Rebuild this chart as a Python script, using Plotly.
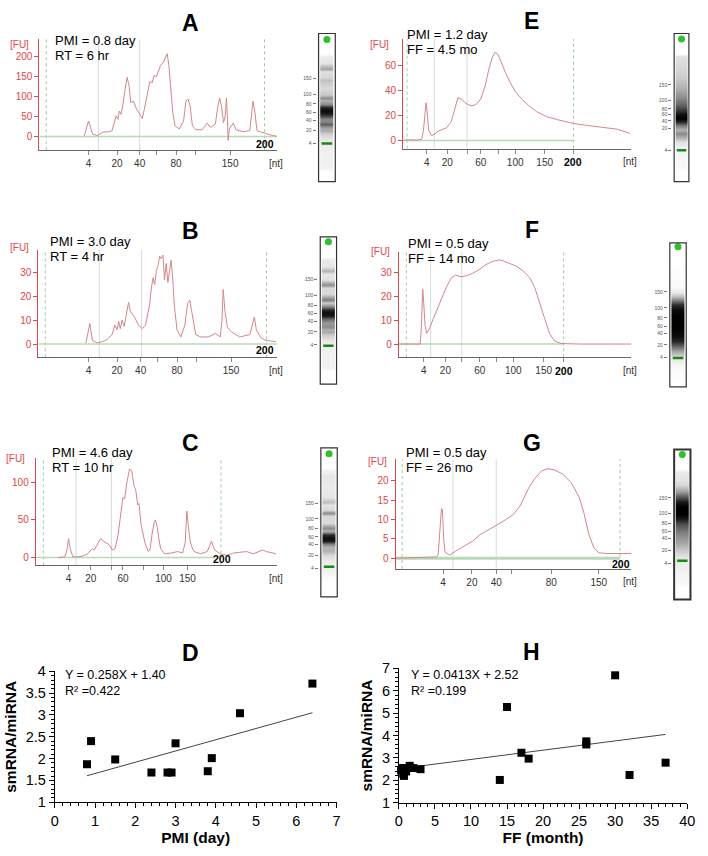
import plotly.graph_objects as go

W, H = 708, 856
RED = '#e0474c'
CURVE = '#d4868a'
GRAYV = '#d3dcdf'
DASHG = '#9fcc9f'
BASEG = '#b9dab9'
FONT = 'Liberation Sans'

def fx(p):
    return p / W

def fy(p):
    return 1 - p / H

# ---------------- Electropherogram data (migration time units, FU) ----------------
tA = [81.7, 86, 90, 95, 100, 106.7, 110, 112.7, 114, 116, 117.3, 119, 121, 123.3, 125.3, 127.3, 129, 131.7,
      135, 138.3, 140.7, 142.7, 145.7, 148.3, 150.7, 152.7, 155, 156.7, 159.3, 161.7, 164, 166, 167.7, 170,
      171.7, 174, 178.3, 182.7, 185, 187.3, 189.3, 191.7, 195, 201.7, 206.7, 210, 215, 217.3, 219.3, 221.3,
      223.3, 225, 226.3, 227.3, 228, 229.3, 231.7, 233.3, 236, 243.3, 250, 251.7, 253.3, 255.3, 257.3, 261.7,
      266.7, 273.3, 277.3]
fuA = [2, 39, 6.6, 2.5, 10.7, 12, 15, 39, 52, 43, 64, 56, 80, 121, 149, 126, 85, 89,
       68, 56, 45, 68, 109, 138, 135, 154, 150, 163, 179, 185, 200, 208, 179, 109,
       60, 27, 19, 39, 89, 94, 76, 27, 17, 17, 34, 23, 31, 72, 97, 76,
       35, 52, 97, 43, -10, 19, 27, 34, 17, 12, 15, 52, 89, 60, 15, 11,
       6.6, 2.5, 1]

tB = [83.3, 87.3, 90, 95, 100, 105, 110, 112.7, 115, 116.7, 118.3, 120, 122.3, 125, 126.7, 128.3, 130.7, 133.3,
      136.7, 140.7, 144, 148.3, 150, 151.7, 153.3, 155, 156.7, 158.3, 160, 161.7, 163.3, 165, 166.7, 168.3,
      170, 171.7, 173.3, 176, 180, 184, 186.7, 189, 191.7, 195, 200, 208.3, 215, 220, 221.7, 223, 224.7,
      227.3, 231.7, 240, 250, 252.7, 254.7, 256.7, 261.7, 266.7, 276.7]
fuB = [0.5, 8.6, 1.5, 0.5, 1, 2, 4, 8, 6, 9.5, 6.5, 10, 7.5, 13, 17.6, 14, 12.5, 11,
       8, 6.5, 8, 17, 24, 28, 25, 31, 33, 37, 36, 37.5, 27, 34, 26, 30,
       35.4, 27, 16, 6, 3, 8, 17, 18.5, 12, 4, 3, 3, 4.5, 3, 10, 23, 14,
       7, 5, 3, 4, 8, 11.4, 6, 2.5, 1.5, 1]

tC = [55, 62, 64, 65.7, 67.3, 70, 75, 80, 85, 88, 90, 91.7, 94, 96, 98.3, 101, 103.3, 107, 110, 113, 116,
      118.3, 121, 122.7, 125, 127.7, 130, 132.3, 134, 136, 137.3, 139.3, 141.5, 143.3, 146.7, 148.5, 150.5,
      152.7, 154, 156, 157.5, 159.3, 163.3, 170, 176.7, 181.7, 184.3, 186, 187.7, 189, 190.7, 193.3, 200,
      206.7, 209, 211, 212.7, 214.3, 220, 226.7, 233.3, 240, 246.7, 253.3, 258, 263.3, 267, 271.7, 276.7]
fuC = [0, 1, 10, 25, 12, 1, 1, 2, 5, 9, 12, 10, 15, 20, 25, 22, 20, 17, 10, 12, 30,
       50, 80, 78, 100, 118, 115, 95, 90, 70, 72, 45, 30, 20, 8, 10, 30,
       47, 50, 40, 25, 12, 5, 6, 8, 6, 20, 62, 40, 25, 15, 8, 5,
       8, 15, 22, 15, 10, 5, 3, 6, 7, 8, 5, 7, 10, 8, 7, 5]

tE = [406, 410, 420, 425, 426.7, 428.3, 429.3, 430.3, 432, 435, 438.3, 441.7, 450, 455, 458.3, 461.7, 465,
      470, 475, 480, 485, 489.3, 493.3, 496.7, 499.3, 502, 505, 510, 515, 520, 526.7, 533.3, 541.7, 551.7,
      563.3, 579.3, 593.3, 610, 623.3, 631.7, 636.7]
fuE = [0, 0.5, 0.3, 1, 8, 22, 30, 24, 8, 4, 5, 7.5, 10, 15, 24, 34, 33,
       29.5, 27.5, 28.5, 33, 43, 57, 66, 70, 69, 64, 54, 46, 39, 33, 28, 23, 19,
       16.5, 13.5, 12, 10.5, 9, 7, 5.5]

tF = [401.7, 423.3, 424.3, 425.3, 426, 427, 428.3, 430, 433.3, 436.7, 443.3, 450, 455, 459.3, 465, 471.7,
      476.7, 483.3, 490, 496.7, 503.3, 506.7, 513.3, 521.7, 528.3, 535, 540, 545, 550, 555, 560, 566.7,
      586.7, 620, 638.3]
fuF = [0, 0, 5, 18, 23, 17, 8, 4.5, 7, 10.7, 17.6, 24, 27.9, 29, 28.3, 28.9,
       29.8, 31.3, 33.4, 34.8, 35.4, 35.2, 34.1, 32.7, 30.7, 27.9, 23.7, 17.6, 10.7, 4.4, 1.3, 0.2,
       0, 0, 0]

tG = [398.3, 420, 440, 441.7, 443.3, 445, 446, 447.3, 448.7, 453.3, 460, 468.3, 476.7, 485, 493.3, 501.7,
      510, 518.3, 525, 533.3, 540, 546.7, 553.3, 560, 568.3, 576.7, 585, 590, 595, 600, 605, 613.3, 626.7,
      638.3]
fuG = [0, 0.2, 0.3, 1, 6, 12.8, 12.5, 5, 1.5, 0.8, 1.9, 3.1, 4.4, 6.2, 7.3, 8.6,
       9.9, 11.3, 13.5, 17.9, 20.6, 22.5, 23.1, 22.8, 21.7, 19.6, 15.8, 11.6, 6.1, 2.7, 1.4, 1.2, 1.2,
       1.2]

# size-ladder tick positions on each electropherogram (labelled / unlabelled)
ntA_pos, ntA_txt, ntA_minor = [86, 115, 138, 175, 230], ['4', '20', '40', '80', '150'], [155, 195]
ntB_pos, ntB_txt, ntB_minor = [86, 115, 139, 176, 231], ['4', '20', '40', '80', '150'], [156, 196]
ntC_pos, ntC_txt, ntC_minor = [65.7, 88.3, 121, 162.3, 186.7], ['4', '20', '60', '100', '150'], [109.3, 141.7]
ntE_pos, ntE_txt, ntE_minor = [430, 451, 485, 520, 550], ['4', '20', '60', '100', '150'], [471, 503.3, 579.3]
ntF_pos, ntF_txt, ntF_minor = [427, 449, 484, 518, 549], ['4', '20', '60', '100', '150'], [465.7, 501, 569.3]
ntG_pos, ntG_txt, ntG_minor = [446.7, 476, 500.7, 556.7, 605], ['4', '20', '40', '80', '150'], [516.7]

# ---------------- Gel lane data (position from lane top, intensity 0-1) ----------------
ladder_txt = ['150', '100', '80', '60', '40', '20', '4']

posA = [20, 24, 30, 34, 36, 38, 44, 48, 50, 56, 62, 66, 68, 72, 75, 78, 81, 84, 87, 90, 92, 94, 97, 99, 102,
        106, 110, 120, 130, 137, 140]
intA = [0, 0.08, 0.1, 0.3, 0.35, 0.12, 0.15, 0.25, 0.2, 0.15, 0.2, 0.45, 0.3, 0.45, 0.85, 0.95, 0.9, 0.7,
        0.45, 0.5, 0.65, 0.45, 0.3, 0.35, 0.2, 0.12, 0.08, 0.06, 0.06, 0.05, 0]
posB = [20, 23.7, 30, 34.3, 38, 44, 48.7, 52, 58, 64.3, 67, 71, 74, 77, 80, 83, 87, 92, 95, 97, 100, 105, 110,
        125, 133, 136]
intB = [0, 0.08, 0.1, 0.3, 0.1, 0.12, 0.45, 0.15, 0.15, 0.5, 0.2, 0.5, 0.85, 0.95, 0.9, 0.6, 0.4, 0.45, 0.3,
        0.35, 0.2, 0.1, 0.06, 0.05, 0.05, 0]
posC = [20, 23.4, 30, 40, 50, 55, 58, 63, 66, 69, 76, 81, 85, 89, 92, 95, 98, 101, 105, 109, 115, 125, 135]
intC = [0, 0.06, 0.1, 0.08, 0.1, 0.25, 0.1, 0.15, 0.45, 0.15, 0.15, 0.45, 0.3, 0.85, 0.95, 0.9, 0.5, 0.3, 0.3,
        0.15, 0.08, 0.05, 0]
posE = [20, 23.3, 35, 45, 55, 65, 72, 78, 83, 87, 90, 94, 98, 102, 106, 110, 116, 125, 135, 140]
intE = [0, 0.12, 0.15, 0.2, 0.3, 0.45, 0.6, 0.8, 0.95, 1.0, 0.85, 0.5, 0.3, 0.45, 0.3, 0.12, 0.05, 0.03, 0.03, 0]
posF = [20, 45, 50, 54, 58, 63, 68, 75, 85, 95, 100, 105, 110, 114, 118, 125, 140]
intF = [0, 0.02, 0.08, 0.25, 0.5, 0.8, 0.95, 1.0, 1.0, 0.95, 0.85, 0.6, 0.35, 0.2, 0.1, 0.03, 0]
posG = [20, 23, 30, 36, 42, 48, 53, 58, 65, 70, 76, 82, 88, 95, 102, 108, 114, 125, 135, 140]
intG = [0, 0.08, 0.1, 0.15, 0.35, 0.65, 0.9, 1.0, 1.0, 0.9, 0.7, 0.55, 0.45, 0.35, 0.22, 0.12, 0.08, 0.05,
        0.03, 0]

# ---------------- Scatter data ----------------
pmi_day = [0.8, 0.9, 1.5, 2.4, 2.8, 2.9, 3.0, 3.8, 3.9, 4.6, 6.4]
ratio_D = [1.87, 2.40, 1.98, 1.68, 1.68, 1.68, 2.35, 1.71, 2.01, 3.04, 3.72]
fit_D = (0.258, 1.40)

ff_month = [0.3, 0.5, 0.6, 0.7, 0.8, 1.0, 1.5, 2.0, 3.0, 14, 15, 17, 18, 26, 26, 30, 32, 37]
ratio_H = [2.45, 2.55, 2.3, 2.2, 2.55, 2.4, 2.65, 2.55, 2.5, 2.02, 5.27, 3.23, 2.97, 3.74, 3.6, 6.68, 2.24, 2.79]
fit_H = (0.0413, 2.52)

# ---------------------------------------------------------------------------------
fig = go.Figure()
layout = {}
shapes = []
annotations = []
counter = [0]


def new_axes(xpx, ypx):
    counter[0] += 1
    i = counter[0]
    xn = 'xaxis' if i == 1 else f'xaxis{i}'
    yn = 'yaxis' if i == 1 else f'yaxis{i}'
    xr = 'x' if i == 1 else f'x{i}'
    yr = 'y' if i == 1 else f'y{i}'
    layout[xn] = dict(domain=[fx(xpx[0]), fx(xpx[1])], anchor=yr, showgrid=False, zeroline=False)
    layout[yn] = dict(domain=[fy(ypx[1]), fy(ypx[0])], anchor=xr, showgrid=False, zeroline=False)
    return xr, yr, xn, yn


def text(x, y, s, size=12, color='black', bold=False, xanchor='left', family=FONT):
    if bold:
        s = f'<b>{s}</b>'
    annotations.append(dict(x=fx(x), y=fy(y), xref='paper', yref='paper', text=s, showarrow=False,
                            xanchor=xanchor, yanchor='middle', font=dict(size=size, color=color, family=family)))


def ep_panel(t, fu, x0, x1, ytop, ybot, yrange, yticks, xtv, xtt, xminor, grays, dashes, base_end,
             fu_pos, lines, line_pos, letter_pos, letter, b200, base_w=1.5):
    xr, yr, xn, yn = new_axes((x0, x1), (ytop, ybot))
    layout[xn].update(range=[x0, x1], showline=True, linecolor='#666', linewidth=1, ticks='outside',
                      ticklen=4, tickcolor='#888', tickvals=xtv, ticktext=xtt,
                      minor=dict(tickmode='array', tickvals=xminor, ticks='outside', ticklen=4, tickcolor='#888'),
                      tickfont=dict(size=10, color='#333', family=FONT))
    layout[yn].update(range=yrange, showline=True, linecolor=RED, linewidth=1, ticks='outside', ticklen=4,
                      tickcolor=RED, tickvals=yticks, tickfont=dict(size=10, color=RED, family=FONT))
    for g in grays:
        shapes.append(dict(type='line', xref=xr, yref=f'{yr} domain', x0=g, x1=g, y0=0, y1=1,
                           line=dict(color=GRAYV, width=1), layer='below'))
    for d in dashes:
        shapes.append(dict(type='line', xref=xr, yref=f'{yr} domain', x0=d, x1=d, y0=0, y1=1,
                           line=dict(color=DASHG, width=1, dash='3px,3px'), layer='below'))
    fig.add_trace(go.Scatter(x=[x0, base_end], y=[0, 0], mode='lines', line=dict(color=BASEG, width=base_w),
                             xaxis=xr, yaxis=yr, hoverinfo='skip'))
    fig.add_trace(go.Scatter(x=t, y=fu, mode='lines', line=dict(color=CURVE, width=1), xaxis=xr, yaxis=yr))
    text(fu_pos[0], fu_pos[1], '[FU]', size=10, color=RED, xanchor='center')
    text(x1 - 1, ybot + 13, '[nt]', size=10, color='#333', xanchor='center')
    text(line_pos[0], line_pos[1], lines[0], size=13)
    text(line_pos[0], line_pos[1] + 15.6, lines[1], size=13)
    text(letter_pos[0], letter_pos[1], letter, size=23, bold=True, xanchor='center')
    text(b200[0], b200[1], '200', size=10.5, bold=True, xanchor='center')


def gel_lane(x0, x1, top, bot, pos, inten, dot, marker, ladder, thick=1.2):
    xr, yr, xn, yn = new_axes((x0, x1), (top, bot))
    h = bot - top
    layout[xn].update(range=[0, 1], visible=False)
    layout[yn].update(range=[h, 0], anchor='free', position=fx(x0 - 3), showline=False, ticks='outside',
                      ticklen=3, tickcolor='#777', tickvals=ladder, ticktext=ladder_txt,
                      tickfont=dict(size=5, color='#555', family=FONT))
    z = [[v, v] for v in inten]
    fig.add_trace(go.Heatmap(x=[0.3, 0.7], y=pos, z=z, zmin=0, zmax=1, zsmooth='best',
                             colorscale=[[0, 'white'], [1, 'black']], showscale=False, xaxis=xr, yaxis=yr,
                             hoverinfo='skip'))
    fig.add_trace(go.Scatter(x=[0.5], y=[dot], mode='markers', marker=dict(color='#2fbf2f', size=7),
                             xaxis=xr, yaxis=yr))
    fig.add_trace(go.Scatter(x=[0.18, 0.82], y=[marker, marker], mode='lines',
                             line=dict(color='#178a17', width=2.5), xaxis=xr, yaxis=yr))
    shapes.append(dict(type='rect', xref=f'{xr} domain', yref=f'{yr} domain', x0=0, x1=1, y0=0, y1=1,
                       line=dict(color='#333', width=thick)))


# ----- Electropherograms -----
ep_panel(tA, fuA, 36, 278, 32, 145, [-34.5, 244], [0, 50, 100, 150, 200], ntA_pos, ntA_txt, ntA_minor,
         [96, 138], [43, 265], 278, (16, 37), ['PMI = 0.8 day', 'RT = 6 hr'], (50, 33), (190, 15), 'A',
         (265, 139))
ep_panel(tB, fuB, 35, 278, 246.7, 356, [-5.6, 39.6], [0, 10, 20, 30], ntB_pos, ntB_txt, ntB_minor,
         [97, 140], [42, 267], 278, (16, 244), ['PMI = 3.0 day', 'RT = 4 hr'], (45, 238), (190, 227), 'B',
         (265, 349))
ep_panel(tC, fuC, 32.3, 278, 459, 568, [-10.4, 131.9], [0, 50, 100], ntC_pos, ntC_txt, ntC_minor,
         [73.3, 109.3], [40, 220.7], 215, (12, 459), ['PMI = 4.6 day', 'RT = 10 hr'], (46.7, 452.7), (190, 443), 'C',
         (222, 562))
ep_panel(tE, fuE, 406, 638.3, 31.7, 143.3, [-6.5, 80.7], [0, 20, 40, 60], ntE_pos, ntE_txt, ntE_minor,
         [437.7, 471], [410, 579.3], 579.3, (382, 37), ['PMI = 1.2 day', 'FF = 4.5 mo'], (408.3, 26.7), (536.7, 13.3), 'E',
         (579.3, 157))
ep_panel(tF, fuF, 401.7, 638.3, 248.3, 356, [-5.6, 38.9], [0, 10, 20, 30], ntF_pos, ntF_txt, ntF_minor,
         [434, 465.7], [409.3, 569.3], 569.3, (383.3, 248.3), ['PMI = 0.5 day', 'FF = 14 mo'], (409.3, 240), (536.7, 226.7), 'F',
         (569.3, 369.5))
ep_panel(tG, fuG, 398.3, 638.3, 460, 571.7, [-2.8, 25.5], [0, 5, 10, 15, 20], ntG_pos, ntG_txt, ntG_minor,
         [456.7, 500.7], [405, 626.7], 626.7, (380, 461.7), ['PMI = 0.5 day', 'FF = 26 mo'], (406.7, 452.7), (536.7, 443.3), 'G',
         (628, 566.7), base_w=3)

# ----- Gel lanes -----
gel_lane(320, 337, 26, 177, posA, intA, 6, 112, [45.7, 61.7, 71.7, 80.7, 88.3, 99, 111.7])
gel_lane(321.7, 338.3, 233.3, 383.3, posB, intB, 5, 111, [43.4, 59.4, 70, 77.7, 85.7, 96.7, 110])
gel_lane(322.3, 339, 448.3, 600, posC, intC, 6, 121, [56.7, 72.4, 81.7, 90.7, 98.4, 109.4, 122.7])
gel_lane(681.7, 696.7, 26, 177, posE, intE, 5.7, 119, [52.3, 68, 76.7, 82.3, 89, 96.3, 119])
gel_lane(677.3, 694, 239.3, 386, posF, intF, 4, 117.4, [50, 66.4, 76.4, 85, 92.4, 104, 116.7])
gel_lane(681.7, 698.3, 450, 602.7, posG, intG, 5, 113.3, [49.3, 65, 75, 83.3, 90.7, 102.7, 116], thick=2)


# ----- Scatter panels -----
def scatter_panel(xs, ys, fit, x0, x1, ytop, ybot, xrange, yrange, xdt, ydt, xminor, yminor, xtitle,
                  eq, r2, eq_pos, letter_pos, letter):
    xr, yr, xn, yn = new_axes((x0, x1), (ytop, ybot))
    tf = dict(size=14.5, color='black', family=FONT)
    layout[xn].update(range=xrange, dtick=xdt, tick0=0, showline=True, linecolor='black', linewidth=1,
                      ticks='outside', ticklen=5, tickcolor='black', tickfont=tf,
                      minor=dict(ticks='outside', ticklen=3, dtick=xminor, tickcolor='black'),
                      title=dict(text=f'<b>{xtitle}</b>', font=dict(size=15.5, family=FONT, color='black'), standoff=3))
    layout[yn].update(range=yrange, dtick=ydt, tick0=0, showline=True, linecolor='black', linewidth=1,
                      ticks='outside', ticklen=5, tickcolor='black', tickfont=tf,
                      minor=dict(ticks='outside', ticklen=3, dtick=yminor, tickcolor='black'),
                      title=dict(text='<b>smRNA/miRNA</b>', font=dict(size=15.5, family=FONT, color='black'), standoff=5))
    lx = [min(xs), max(xs)]
    ly = [fit[0] * v + fit[1] for v in lx]
    fig.add_trace(go.Scatter(x=lx, y=ly, mode='lines', line=dict(color='#444', width=1), xaxis=xr, yaxis=yr))
    fig.add_trace(go.Scatter(x=xs, y=ys, mode='markers', marker=dict(symbol='square', size=8, color='black'),
                             xaxis=xr, yaxis=yr, cliponaxis=False))
    text(eq_pos[0], eq_pos[1], eq, size=12.5)
    text(eq_pos[0], eq_pos[1] + 16.5, r2, size=12.5)
    text(letter_pos[0], letter_pos[1], letter, size=23, bold=True, xanchor='center')


scatter_panel(pmi_day, ratio_D, fit_D, 51.7, 338.3, 676, 809.3, [0, 7], [1, 4], 1, 0.5, 0.2, 0.1,
              'PMI (day)', 'Y = 0.258X + 1.40', 'R² =0.422', (60, 680), (190, 657), 'D')
scatter_panel(ff_month, ratio_H, fit_H, 401.7, 695, 672.7, 810, [0, 40], [1, 7], 5, 1, 1, 0.2,
              'FF (month)', 'Y = 0.0413X + 2.52', 'R² =0.199', (411.7, 680), (536.7, 656.7), 'H')

fig.update_layout(width=W, height=H, margin=dict(l=0, r=0, t=0, b=0), paper_bgcolor='white',
                  plot_bgcolor='rgba(0,0,0,0)', showlegend=False, shapes=shapes, annotations=annotations,
                  font=dict(family=FONT), **layout)
fig.write_html('out.html', config={'displayModeBar': False},
               post_script="document.body.style.margin='0';document.body.style.padding='0';")
